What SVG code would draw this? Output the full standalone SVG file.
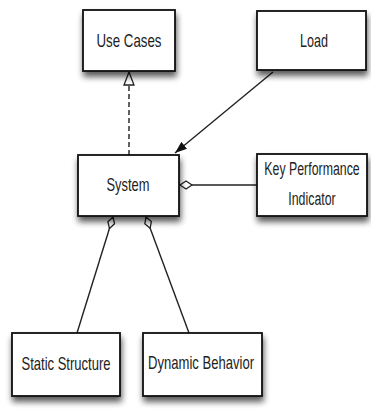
<svg xmlns="http://www.w3.org/2000/svg" width="371" height="410" viewBox="0 0 371 410">
<defs>
<filter id="sh" x="-20%" y="-20%" width="140%" height="160%">
<feGaussianBlur in="SourceAlpha" stdDeviation="3"/>
<feOffset dx="1" dy="5" result="b"/>
<feComponentTransfer><feFuncA type="linear" slope="0.65"/></feComponentTransfer>
<feMerge><feMergeNode/><feMergeNode in="SourceGraphic"/></feMerge>
</filter>
<marker id="tri" viewBox="0 0 15 12" refX="14" refY="6" markerWidth="15" markerHeight="12" markerUnits="userSpaceOnUse" orient="auto">
<path d="M14,6 L1,1 L1,11 Z" fill="#fff" stroke="#222" stroke-width="1.3"/>
</marker>
<marker id="fill" viewBox="0 0 12 9" refX="12" refY="4.5" markerWidth="12" markerHeight="9" markerUnits="userSpaceOnUse" orient="auto">
<path d="M12,4.5 L0,0 L0,9 Z" fill="#111"/>
</marker>
<marker id="dia" viewBox="0 0 14 10" refX="13" refY="5" markerWidth="14" markerHeight="10" markerUnits="userSpaceOnUse" orient="auto">
<path d="M13,5 L7,1 L1,5 L7,9 Z" fill="#fff" stroke="#222" stroke-width="1.3" stroke-linejoin="round"/>
</marker>
<marker id="dia2" viewBox="0 0 14 9" refX="13" refY="4.5" markerWidth="14" markerHeight="9" markerUnits="userSpaceOnUse" orient="auto">
<path d="M13,4.5 L7,1 L1,4.5 L7,8 Z" fill="#fff" stroke="#222" stroke-width="1.3" stroke-linejoin="round"/>
</marker>
</defs>
<style>
.box{fill:#fff;stroke:#111;stroke-width:1.8;filter:url(#sh)}
.t{font-family:"Liberation Sans",Arial,sans-serif;font-size:19px;fill:#222;text-anchor:middle}
.c{fill:none;stroke:#222;stroke-width:1.4}
</style>
<rect width="371" height="410" fill="#fff"/>
<g id="connectors">
<line class="c" x1="129" y1="155" x2="129" y2="72" stroke-dasharray="5,3" marker-end="url(#tri)"/>
<line class="c" x1="273" y1="72" x2="175" y2="153" marker-end="url(#fill)"/>
<line class="c" x1="257" y1="185" x2="180" y2="185" marker-end="url(#dia)"/>
<line class="c" x1="77" y1="333" x2="113" y2="217" marker-end="url(#dia2)"/>
<line class="c" x1="189" y1="333" x2="146" y2="217" marker-end="url(#dia2)"/>
</g>
<g id="use-cases">
<rect class="box" x="83" y="10" width="92" height="61"/>
<text class="t" x="129" y="47" textLength="65" lengthAdjust="spacingAndGlyphs">Use Cases</text>
</g>
<g id="load">
<rect class="box" x="257" y="11" width="109" height="59"/>
<text class="t" x="314" y="47" textLength="28" lengthAdjust="spacingAndGlyphs">Load</text>
</g>
<g id="system">
<rect class="box" x="78" y="155" width="101" height="61"/>
<text class="t" x="128" y="191" textLength="43" lengthAdjust="spacingAndGlyphs">System</text>
</g>
<g id="kpi">
<rect class="box" x="257" y="154" width="110" height="62"/>
<text class="t" transform="translate(312,175) scale(0.65,1)">Key Performance</text>
<text class="t" transform="translate(312,205) scale(0.65,1)">Indicator</text>
</g>
<g id="static-structure">
<rect class="box" x="12" y="333" width="108" height="63"/>
<text class="t" x="66" y="370" textLength="89" lengthAdjust="spacingAndGlyphs">Static Structure</text>
</g>
<g id="dynamic-behavior">
<rect class="box" x="143" y="333" width="119" height="63"/>
<text class="t" x="201" y="369" textLength="106" lengthAdjust="spacingAndGlyphs">Dynamic Behavior</text>
</g>
</svg>
